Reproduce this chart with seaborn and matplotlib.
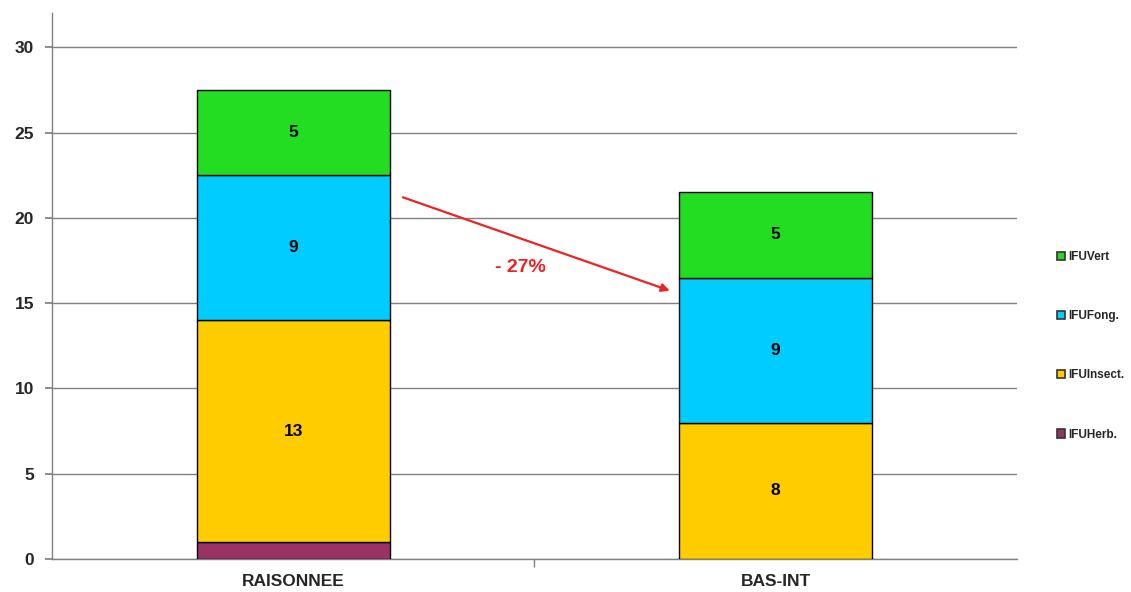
import seaborn as sns
import matplotlib.pyplot as plt
import pandas as pd
import numpy as np

# data
categories = ["RAISONNEE", "BAS-INT"]
series = ["IFUHerb.", "IFUInsect.", "IFUFong.", "IFUVert"]
herb = [1, 0]
insect = [13, 8]
fong = [8.5, 8.5]
vert = [5, 5]
# labels as printed on the bars
herb_lbl = ["", ""]
insect_lbl = ["13", "8"]
fong_lbl = ["9", "9"]
vert_lbl = ["5", "5"]
colors = ["#993366", "#FFCC00", "#00CCFF", "#22DD22"]

sns.set_theme(style="white")
plt.rcParams["font.family"] = ["Liberation Sans", "DejaVu Sans"]

fig = plt.figure(figsize=(11.31, 5.92), dpi=100)
ax = fig.add_axes([0.046, 0.0557, 0.853, 0.922])

values = [herb, insect, fong, vert]
labels = [herb_lbl, insect_lbl, fong_lbl, vert_lbl]
bottom = np.zeros(len(categories))
handles = []
for name, vals, lbls, col in zip(series, values, labels, colors):
    df = pd.DataFrame({"cat": categories, "val": vals})
    sns.barplot(data=df, x="cat", y="val", color=col, width=0.4,
                bottom=bottom, edgecolor="black", linewidth=1.0,
                saturation=1, ax=ax, zorder=3)
    for i, (v, l) in enumerate(zip(vals, lbls)):
        if l:
            ax.text(i, bottom[i] + v / 2, l, ha="center", va="center",
                    fontsize=12.5, fontweight="bold", color="black", zorder=5)
    handles.append(plt.Rectangle((0, 0), 1, 1, facecolor=col,
                                 edgecolor="#333333", linewidth=1.2))
    bottom = bottom + np.array(vals)

# hide empty bars
for p in ax.patches:
    if p.get_height() == 0:
        p.set_visible(False)

ax.set_xlim(-0.5, 1.5)
ax.set_ylim(0, 32)
ax.set_yticks([0, 5, 10, 15, 20, 25, 30])
ax.yaxis.grid(True, color="#808080", linewidth=1)
ax.set_axisbelow(True)
ax.set_xlabel("")
ax.set_ylabel("")
for s in ["top", "right"]:
    ax.spines[s].set_visible(False)
for s in ["left", "bottom"]:
    ax.spines[s].set_color("#808080")
    ax.spines[s].set_linewidth(1)
ax.tick_params(axis="y", left=True, length=5, color="#808080",
               labelsize=12.5, pad=8)
ax.tick_params(axis="x", bottom=False, labelsize=12.5, pad=5)
ax.set_xticks([0.5], minor=True)
ax.tick_params(axis="x", which="minor", bottom=True, length=6, color="#808080")
for t in ax.get_xticklabels() + ax.get_yticklabels():
    t.set_fontweight("bold")

# change arrow
ax.annotate("", xy=(0.786, 15.68), xytext=(0.222, 21.26),
            arrowprops=dict(arrowstyle="-|>", color="#EE2222", lw=1.6,
                            mutation_scale=12), zorder=6)
ax.text(0.471, 17.1, "- 27%", color="#EE2222", fontsize=14,
        fontweight="bold", ha="center", va="center")

leg = fig.legend(handles[::-1], series[::-1], loc="center left",
                 bbox_to_anchor=(0.925, 0.416), frameon=False,
                 fontsize=8.5, handlelength=0.7, handleheight=0.7,
                 handletextpad=0.3, labelspacing=4.0)
for t in leg.get_texts():
    t.set_fontweight("bold")

fig.savefig("out.png", dpi=100)
